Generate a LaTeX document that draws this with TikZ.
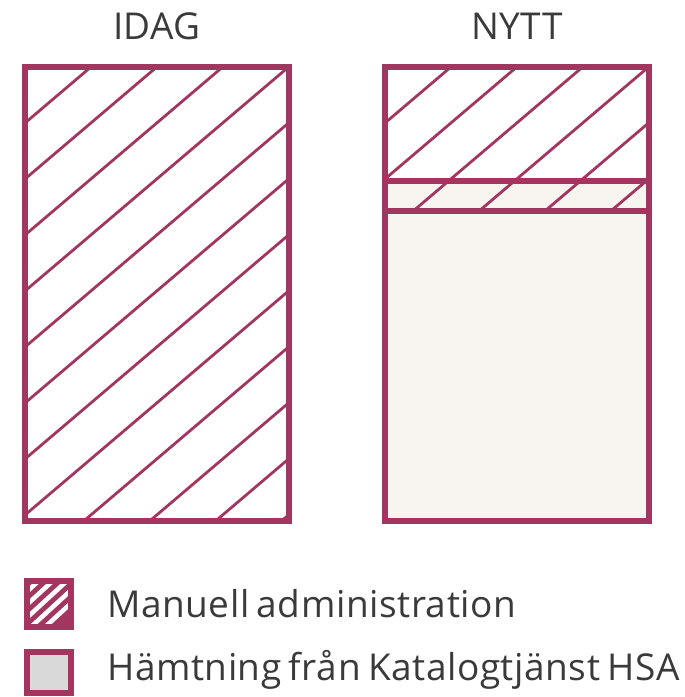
\documentclass[tikz,border=0pt]{standalone}
\usepackage{fontspec}
\setmainfont[LetterSpace=1.5]{Open Sans}
\definecolor{hsared}{HTML}{A33660}
\definecolor{hsacream}{HTML}{F8F5F0}
\definecolor{hsagray}{HTML}{D9D9D9}
\definecolor{hsatext}{HTML}{3A3A3A}
\newcommand\hsafont{\fontsize{37}{44}\selectfont\spaceskip=0.2em plus 0.02em\relax}
\tikzset{
  boxline/.style={draw=hsared, line width=6pt},
  hatchline/.style={draw=hsared, line width=2.8pt},
  textlabel/.style={text=hsatext, inner sep=0pt, font=\hsafont}
}
\begin{document}
\begin{tikzpicture}[x=1pt,y=-1pt]
\useasboundingbox (0,0) rectangle (685,697);
\node[textlabel, anchor=base] (idag) at (157,39){IDAG};
\node[textlabel, anchor=base] (nytt) at (517,39){NYTT};
\begin{scope}
\clip (25,67) rectangle (289,521);
\foreach \k in {1,...,12}
  \draw[hatchline] (25,67+56*\k) -- ++(300,-255);
\end{scope}
\draw[boxline] (25,67) rectangle (289,521);
\fill[hsacream] (385,181) rectangle (649,521);
\begin{scope}
\clip (385,67) rectangle (649,211);
\foreach \k in {1,...,12}
  \draw[hatchline] (385,67+56*\k) -- ++(300,-255);
\end{scope}
\draw[boxline] (385,67) rectangle (649,521);
\draw[boxline] (385,181) -- (649,181);
\draw[boxline] (385,211) -- (649,211);
\fill[hsared] (27,581) rectangle (71,627);
\begin{scope}
\clip (27,581) rectangle (71,627);
\foreach \k in {0,...,4}
  \draw[draw=white, line width=4.5pt] (20,598+13*\k) -- ++(60,-55);
\end{scope}
\draw[boxline] (27,581) rectangle (71,627);
\draw[boxline, fill=hsagray] (27,652) rectangle (71,693);
\node[textlabel, anchor=base west] (manuell) at (107,617){Manuell administration};
\node[textlabel, anchor=base west] (hamtning) at (107,680){Hämtning från Katalogtjänst HSA};
\end{tikzpicture}
\end{document}
